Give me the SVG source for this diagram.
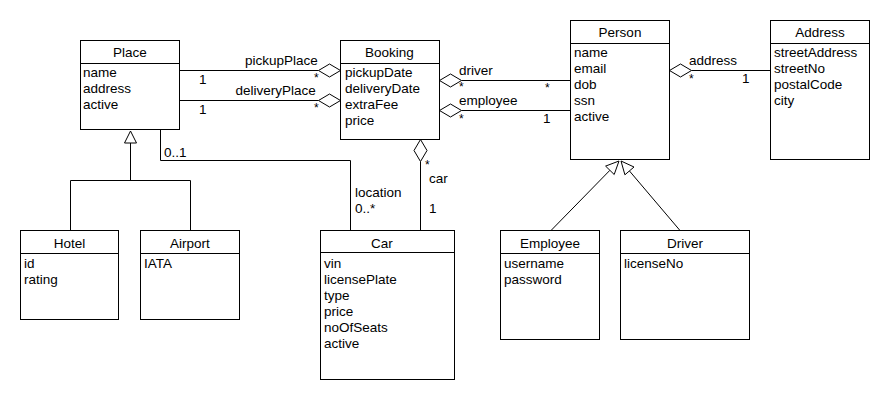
<svg xmlns="http://www.w3.org/2000/svg" width="890" height="400" viewBox="0 0 890 400">
<style>
text{font-family:"Liberation Sans",Arial,sans-serif;font-size:13.5px;fill:#000}
text.s{font-size:12px}
.t{text-anchor:middle}
.box{fill:#fff;stroke:#000;stroke-width:1}
.ln{fill:none;stroke:#000;stroke-width:1}
.hd{fill:#fff;stroke:#000;stroke-width:1}
</style>
<rect width="890" height="400" fill="#fff"/>
<g id="connectors">
<polyline class="ln" points="179.5,70.5 318.5,70.5"/>
<polygon class="hd" points="318.5,70.5 329.5,64 340.5,70.5 329.5,77"/>
<polyline class="ln" points="179.5,100.5 318.5,100.5"/>
<polygon class="hd" points="318.5,100.5 329.5,94 340.5,100.5 329.5,107"/>
<polyline class="ln" points="461.5,80.5 570.5,80.5"/>
<polygon class="hd" points="439.5,80.5 450.5,74 461.5,80.5 450.5,87"/>
<polyline class="ln" points="461.5,110.5 570.5,110.5"/>
<polygon class="hd" points="439.5,110.5 450.5,104 461.5,110.5 450.5,117"/>
<polyline class="ln" points="691.5,70.5 770.5,70.5"/>
<polygon class="hd" points="669.5,70.5 680.5,64 691.5,70.5 680.5,77"/>
<polyline class="ln" points="420.5,161.5 420.5,230.5"/>
<polygon class="hd" points="420.5,139.5 427,150.5 420.5,161.5 414,150.5"/>
<polyline class="ln" points="160.5,129.5 160.5,160.5 350.5,160.5 350.5,230.5"/>
<polyline class="ln" points="130.5,143 130.5,180.5"/>
<polyline class="ln" points="70.5,230.5 70.5,180.5 190.5,180.5 190.5,230.5"/>
<polygon class="hd" points="130.5,131 136.5,143 124.5,143"/>
<polyline class="ln" points="551,230.5 609.9,170.3"/>
<polygon class="hd" points="619,161 614.2,174.5 605.6,166.1"/>
<polyline class="ln" points="680,230.5 629.4,170.9"/>
<polygon class="hd" points="621,161 634,167 624.9,174.8"/>
<text x="245" y="65">pickupPlace</text>
<text x="199" y="84">1</text>
<text class="s" x="314" y="82">*</text>
<text x="235.5" y="95">deliveryPlace</text>
<text x="199" y="114">1</text>
<text class="s" x="314" y="112">*</text>
<text x="459" y="75">driver</text>
<text class="s" x="459" y="91">*</text>
<text class="s" x="545" y="92">*</text>
<text x="459" y="105">employee</text>
<text class="s" x="459" y="123">*</text>
<text x="543" y="123">1</text>
<text x="689" y="65">address</text>
<text class="s" x="689" y="83">*</text>
<text x="742" y="83">1</text>
<text class="s" x="425" y="168.5">*</text>
<text x="429" y="183">car</text>
<text x="429" y="213">1</text>
<text x="355" y="197">location</text>
<text x="355" y="213">0..*</text>
<text x="164" y="157">0..1</text>
</g>
<g id="Place">
<rect class="box" x="80.5" y="40.5" width="99" height="89"/>
<line class="ln" x1="80.5" y1="63.5" x2="179.5" y2="63.5"/>
<text class="t" x="130" y="57">Place</text>
<text x="83" y="77">name</text>
<text x="83" y="93">address</text>
<text x="83" y="109">active</text>
</g>
<g id="Booking">
<rect class="box" x="340.5" y="40.5" width="99" height="99"/>
<line class="ln" x1="340.5" y1="63.5" x2="439.5" y2="63.5"/>
<text class="t" x="389.5" y="57">Booking</text>
<text x="345" y="77">pickupDate</text>
<text x="345" y="93">deliveryDate</text>
<text x="345" y="109">extraFee</text>
<text x="345" y="125">price</text>
</g>
<g id="Person">
<rect class="box" x="570.5" y="20.5" width="99" height="139"/>
<line class="ln" x1="570.5" y1="43.5" x2="669.5" y2="43.5"/>
<text class="t" x="620" y="37">Person</text>
<text x="574" y="57">name</text>
<text x="574" y="73">email</text>
<text x="574" y="89">dob</text>
<text x="574" y="105">ssn</text>
<text x="574" y="121">active</text>
</g>
<g id="Address">
<rect class="box" x="770.5" y="20.5" width="99" height="139"/>
<line class="ln" x1="770.5" y1="43.5" x2="869.5" y2="43.5"/>
<text class="t" x="820" y="37">Address</text>
<text x="774" y="57">streetAddress</text>
<text x="774" y="73">streetNo</text>
<text x="774" y="89">postalCode</text>
<text x="774" y="105">city</text>
</g>
<g id="Hotel">
<rect class="box" x="20.5" y="230.5" width="98" height="89"/>
<line class="ln" x1="20.5" y1="253.5" x2="118.5" y2="253.5"/>
<text class="t" x="69.5" y="248">Hotel</text>
<text x="24" y="268">id</text>
<text x="24" y="284">rating</text>
</g>
<g id="Airport">
<rect class="box" x="140.5" y="230.5" width="99" height="89"/>
<line class="ln" x1="140.5" y1="253.5" x2="239.5" y2="253.5"/>
<text class="t" x="190" y="248">Airport</text>
<text x="144" y="268">IATA</text>
</g>
<g id="Car">
<rect class="box" x="320.5" y="230.5" width="134" height="149"/>
<line class="ln" x1="320.5" y1="252.5" x2="454.5" y2="252.5"/>
<text class="t" x="382" y="247.5">Car</text>
<text x="324" y="268">vin</text>
<text x="324" y="284">licensePlate</text>
<text x="324" y="300">type</text>
<text x="324" y="316">price</text>
<text x="324" y="332">noOfSeats</text>
<text x="324" y="348">active</text>
</g>
<g id="Employee">
<rect class="box" x="500.5" y="230.5" width="99" height="109"/>
<line class="ln" x1="500.5" y1="253.5" x2="599.5" y2="253.5"/>
<text class="t" x="550" y="248">Employee</text>
<text x="504" y="268">username</text>
<text x="504" y="284">password</text>
</g>
<g id="Driver">
<rect class="box" x="620.5" y="230.5" width="129" height="109"/>
<line class="ln" x1="620.5" y1="253.5" x2="749.5" y2="253.5"/>
<text class="t" x="685" y="248">Driver</text>
<text x="624" y="268">licenseNo</text>
</g>
</svg>
